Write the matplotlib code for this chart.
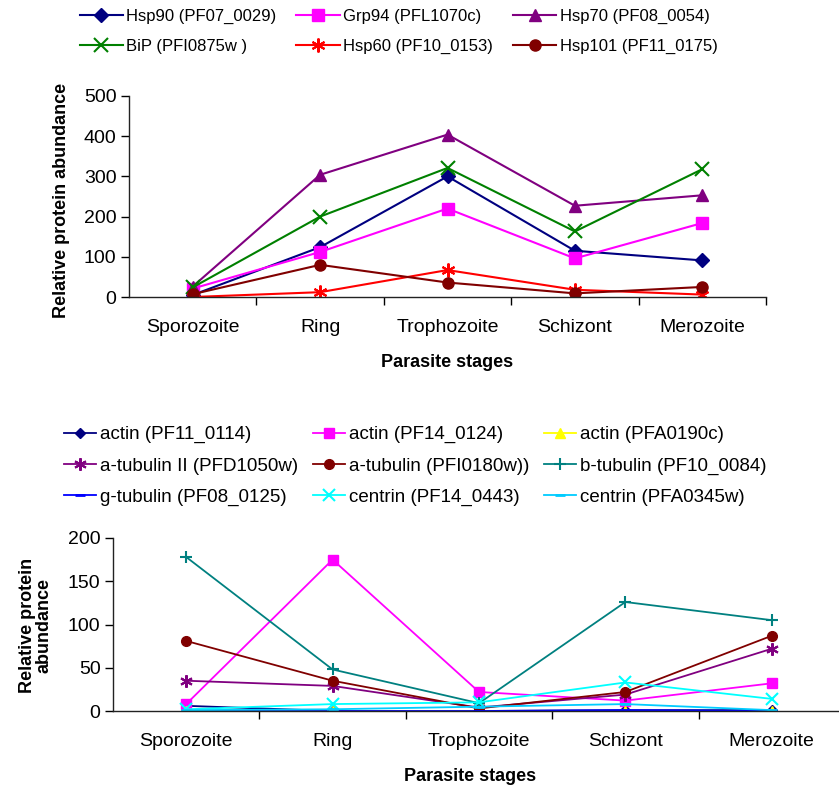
import numpy as np
import matplotlib
matplotlib.use("Agg")
import matplotlib.pyplot as plt

plt.rcParams['font.family'] = ['Liberation Sans', 'DejaVu Sans']

stages = ["Sporozoite", "Ring", "Trophozoite", "Schizont", "Merozoite"]

# top panel: chaperones
hsp90 = [5, 124, 300, 115, 91]
grp94 = [21, 112, 220, 96, 184]
hsp70 = [26, 304, 404, 227, 253]
bip = [24, 200, 321, 163, 318]
hsp60 = [0, 12, 67, 18, 6]
hsp101 = [7, 80, 36, 9, 25]

top_labels = ["Hsp90 (PF07_0029)", "Grp94 (PFL1070c)", "Hsp70 (PF08_0054)",
              "BiP (PFI0875w )", "Hsp60 (PF10_0153)", "Hsp101 (PF11_0175)"]

# bottom panel: cytoskeleton
actin_0114 = [6, 0, 0, 1, 1]
actin_0124 = [8, 175, 22, 12, 32]
actin_0190 = [0, 0, 0, 0, 0]
atub2 = [35, 29, 4, 19, 72]
atub_0180 = [81, 35, 3, 22, 87]
btub = [178, 48, 9, 126, 105]
gtub = [0, 0, 0, 1, 0]
centrin_0443 = [2, 8, 10, 33, 14]
centrin_0345 = [1, 2, 5, 8, 1]

bottom_labels = ["actin (PF11_0114)", "actin (PF14_0124)", "actin (PFA0190c)",
                 "a-tubulin II (PFD1050w)", "a-tubulin (PFI0180w))", "b-tubulin (PF10_0084)",
                 "g-tubulin (PF08_0125)", "centrin (PF14_0443)", "centrin (PFA0345w)"]

asterisk = (6, 2, 0)


def style_axes(ax, ymax, ystep):
    x = np.arange(len(stages))
    ax.set_xlim(-0.5, len(stages) - 0.5)
    ax.set_ylim(0, ymax)
    ax.set_yticks(np.arange(0, ymax + 1, ystep))
    ax.set_xticks(x + 0.5)
    ax.set_xticklabels([])
    ax.set_xticks(x, minor=True)
    ax.set_xticklabels(stages, minor=True)
    ax.tick_params(axis='x', which='minor', length=0, pad=16, labelsize=14)
    ax.tick_params(axis='x', which='major', length=6, direction='out', width=1)
    ax.tick_params(axis='y', length=6, direction='out', width=1, labelsize=14, pad=3)
    for s in ['top', 'right']:
        ax.spines[s].set_visible(False)
    for s in ['left', 'bottom']:
        ax.spines[s].set_color('#222222')
        ax.spines[s].set_linewidth(1)


def row_major(items, ncol):
    # matplotlib fills legend columns first; reference reads across rows
    nrow = int(np.ceil(len(items) / ncol))
    return [items[r * ncol + c] for c in range(ncol) for r in range(nrow)
            if r * ncol + c < len(items)]


fig = plt.figure(figsize=(8.39, 7.86), dpi=100)

# ---- top panel
ax1 = fig.add_axes([129 / 839, 1 - 297 / 786, 637 / 839, 201 / 786])
x = np.arange(len(stages))
ax1.plot(x, hsp90, color='#000080', marker='D', ms=7, lw=1.5)
ax1.plot(x, grp94, color='#FF00FF', marker='s', ms=8, lw=1.5)
ax1.plot(x, hsp70, color='#800080', marker='^', ms=9, lw=1.5)
ax1.plot(x, bip, color='#008000', marker='x', ms=10, mew=1.5, lw=1.5)
ax1.plot(x, hsp60, color='#FF0000', marker=asterisk, ms=10, mew=1.5, lw=1.5)
ax1.plot(x, hsp101, color='#800000', marker='o', ms=8, lw=1.5)
style_axes(ax1, 500, 100)
ax1.set_xlabel("Parasite stages", fontsize=13, fontweight='bold')
ax1.xaxis.set_label_coords(0.5, -0.285)
ax1.set_ylabel("Relative protein abundance", fontsize=13, fontweight='bold')
ax1.yaxis.set_label_coords(-0.092, 0.48)

fig.legend(row_major(ax1.get_lines(), 3), row_major(top_labels, 3), ncol=3,
           loc='center', bbox_to_anchor=(0.475, 1 - 31.5 / 786), frameon=False,
           fontsize=12, handlelength=2.6, handletextpad=0.2, columnspacing=1.2,
           labelspacing=0.9)

# ---- bottom panel
ax2 = fig.add_axes([113 / 839, 1 - 711 / 786, 732 / 839, 173 / 786])
ax2.plot(x, actin_0114, color='#000080', marker='D', ms=5, lw=1.3)
ax2.plot(x, actin_0124, color='#FF00FF', marker='s', ms=7, lw=1.3)
ax2.plot(x, actin_0190, color='#FFFF00', marker='^', ms=7, lw=1.3)
ax2.plot(x, atub2, color='#800080', marker=asterisk, ms=9, mew=1.5, lw=1.3)
ax2.plot(x, atub_0180, color='#800000', marker='o', ms=7, lw=1.3)
ax2.plot(x, btub, color='#008080', marker='+', ms=9, mew=1.5, lw=1.3)
ax2.plot(x, gtub, color='#0000FF', marker='_', ms=7, mew=2, lw=1.3)
ax2.plot(x, centrin_0443, color='#00FFFF', marker='x', ms=8, mew=1.5, lw=1.3)
ax2.plot(x, centrin_0345, color='#00CCFF', marker='_', ms=7, mew=2, lw=1.3)
style_axes(ax2, 200, 50)
ax2.set_xlabel("Parasite stages", fontsize=13, fontweight='bold')
ax2.xaxis.set_label_coords(0.488, -0.33)
ax2.set_ylabel("Relative protein\nabundance", fontsize=13, fontweight='bold',
               linespacing=1.0)
ax2.yaxis.set_label_coords(-0.082, 0.497)

fig.legend(row_major(ax2.get_lines(), 3), row_major(bottom_labels, 3), ncol=3,
           loc='center', bbox_to_anchor=(0.495, 1 - 466 / 786), frameon=False,
           fontsize=13.5, handlelength=1.7, handletextpad=0.2, columnspacing=0.8,
           labelspacing=0.75)

fig.savefig("out.png", dpi=100)
